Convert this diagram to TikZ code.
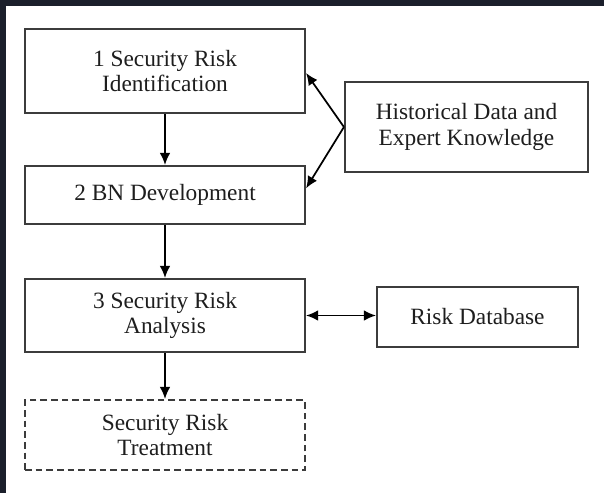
\documentclass[tikz,border=0pt]{standalone}
\usepackage{fontspec}
\setmainfont{Liberation Serif}
\usetikzlibrary{arrows.meta}
\definecolor{frame}{HTML}{1B1F2B}
\definecolor{boxline}{HTML}{3C3C3C}
\definecolor{txt}{HTML}{1E1E1E}
\begin{document}
\begin{tikzpicture}[x=0.75pt,y=-0.75pt,
  box/.style={draw=boxline,line width=1.6pt,rectangle,align=center,text=txt,
    font=\fontsize{17.5}{19}\selectfont,inner sep=0pt},
  dbox/.style={box,dash pattern=on 5pt off 3pt},
  arr/.style={draw=black,line width=1.3pt,-{Latex[length=9pt,width=8pt]}},
  darr/.style={draw=black,line width=1.3pt,{Latex[length=9pt,width=8pt]}-{Latex[length=9pt,width=8pt]}}]
\useasboundingbox (0,0) rectangle (604,493);
\fill[white] (0,0) rectangle (604,493);
\fill[frame] (0,0) rectangle (604,6);
\fill[frame] (0,0) rectangle (6,493);

\node[box,minimum width=210pt,minimum height=63pt] (b1) at (165,71) {1 Security Risk\\Identification};
\node[box,minimum width=210pt,minimum height=43.5pt] (b2) at (165,195) {2 BN Development};
\node[box,minimum width=210pt,minimum height=54.75pt] (b3) at (165,315.5) {3 Security Risk\\Analysis};
\node[dbox,minimum width=210pt,minimum height=52.5pt] (b4) at (165,435) {Security Risk\\Treatment};
\node[box,minimum width=182.25pt,minimum height=67.5pt] (hist) at (466.5,127) {Historical Data and\\Expert Knowledge};
\node[box,minimum width=150.75pt,minimum height=45pt] (db) at (477.5,317) {Risk Database};

\draw[arr] (b1.south) -- (b2.north);
\draw[arr] (b2.south) -- (b3.north);
\draw[arr] (b3.south) -- (b4.north);
\draw[arr] (hist.west) -- ([yshift=-1.5pt]b1.east);
\draw[arr] (hist.west) -- ([yshift=5pt]b2.east);
\draw[darr] (b3.east) -- (b3.east -| db.west);
\end{tikzpicture}
\end{document}
